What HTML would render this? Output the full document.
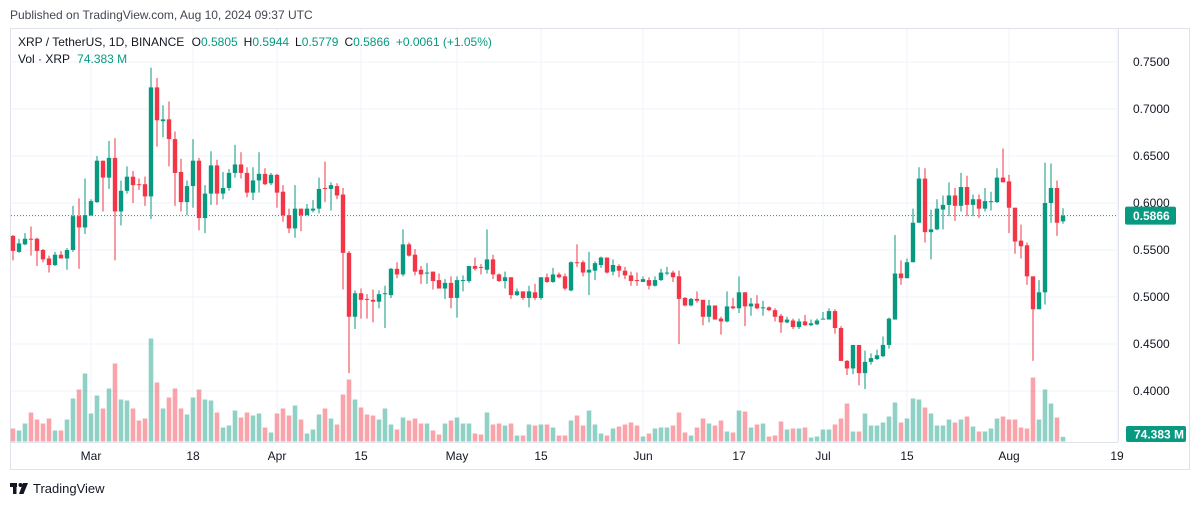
<!DOCTYPE html>
<html><head><meta charset="utf-8"><style>
html,body{margin:0;padding:0;background:#fff;}
svg{display:block;font-family:"Liberation Sans",sans-serif;}
</style></head><body>
<svg id="chart" width="1200" height="505" viewBox="0 0 1200 505" xmlns="http://www.w3.org/2000/svg">
<text x="10" y="19" font-size="12" fill="#434651">Published on TradingView.com, Aug 10, 2024 09:37 UTC</text>
<rect x="10.5" y="28.5" width="1179" height="441" fill="none" stroke="#e0e3eb"/>
<g id="grid"></g>
<g id="vol"></g>
<g id="candles"></g>
<g id="axes"></g>
<g font-size="12">
<text x="18" y="46" fill="#131722">XRP / TetherUS, 1D, BINANCE <tspan dx="4">O</tspan><tspan fill="#089981">0.5805</tspan><tspan dx="6">H</tspan><tspan fill="#089981">0.5944</tspan><tspan dx="6">L</tspan><tspan fill="#089981">0.5779</tspan><tspan dx="6">C</tspan><tspan fill="#089981">0.5866</tspan><tspan dx="6" fill="#089981">+0.0061 (+1.05%)</tspan></text>
<text x="18" y="63" fill="#131722">Vol · XRP <tspan dx="4" fill="#089981">74.383 M</tspan></text>
</g>
<g>
<rect x="10" y="483" width="7" height="4" fill="#131722"/><rect x="13" y="483" width="3.5" height="11" fill="#131722"/>
<circle cx="20.5" cy="485" r="2" fill="#131722"/><path d="M23 483 L28 483 L23.5 494 L19 494 Z" fill="#131722"/>
<text x="33" y="493" font-size="13" fill="#131722">TradingView</text>
</g>
</svg>
<script>
const opens=[.565,.548,.556,.562,.562,.55,.541,.534,.545,.541,.55,.586,.574,.587,.601,.645,.627,.648,.591,.613,.628,.620,.620,.607,.723,.687,.689,.668,.633,.601,.618,.645,.584,.610,.640,.610,.616,.632,.641,.632,.611,.624,.631,.621,.630,.612,.587,.573,.594,.587,.592,.594,.616,.615,.618,.609,.547,.479,.504,.498,.497,.495,.503,.502,.530,.524,.556,.545,.529,.525,.527,.518,.509,.515,.499,.517,.517,.533,.532,.529,.540,.524,.517,.521,.502,.506,.499,.505,.499,.521,.516,.524,.522,.507,.537,.537,.526,.528,.534,.542,.527,.533,.528,.523,.518,.516,.518,.512,.518,.525,.526,.522,.499,.491,.498,.497,.479,.491,.477,.474,.490,.488,.505,.490,.493,.488,.489,.486,.480,.473,.475,.468,.474,.470,.471,.476,.476,.485,.467,.432,.424,.449,.419,.431,.434,.437,.449,.476,.525,.520,.537,.579,.626,.569,.572,.593,.598,.608,.597,.617,.598,.604,.594,.601,.601,.627,.623,.595,.560,.555,.522,.487,.505,.600,.616,.5805];
const highs=[.566,.562,.568,.575,.563,.551,.544,.548,.549,.552,.597,.605,.626,.604,.650,.645,.666,.669,.624,.639,.634,.626,.628,.744,.733,.704,.708,.676,.647,.624,.668,.648,.619,.655,.646,.633,.636,.662,.654,.638,.638,.654,.637,.632,.631,.619,.594,.619,.594,.599,.603,.627,.644,.622,.621,.616,.549,.507,.509,.503,.508,.507,.512,.531,.537,.572,.558,.551,.533,.536,.527,.525,.519,.522,.522,.523,.533,.542,.535,.572,.545,.525,.527,.521,.509,.506,.512,.514,.521,.525,.531,.526,.525,.538,.556,.539,.548,.538,.543,.542,.540,.535,.532,.527,.526,.522,.521,.522,.530,.532,.528,.528,.500,.499,.506,.497,.497,.491,.479,.506,.499,.522,.505,.499,.502,.496,.490,.488,.482,.479,.477,.477,.481,.476,.477,.484,.488,.487,.469,.433,.449,.449,.443,.440,.444,.458,.478,.566,.539,.541,.594,.638,.637,.593,.604,.608,.622,.616,.632,.629,.609,.609,.616,.612,.637,.658,.630,.595,.577,.558,.522,.518,.643,.642,.624,.5944];
const lows=[.539,.547,.555,.544,.533,.537,.526,.533,.541,.529,.548,.530,.567,.586,.600,.591,.615,.539,.576,.610,.600,.614,.597,.583,.660,.670,.639,.597,.591,.587,.595,.571,.568,.598,.598,.604,.613,.627,.626,.606,.603,.611,.619,.619,.595,.580,.568,.563,.570,.587,.590,.589,.601,.592,.604,.508,.419,.466,.477,.477,.473,.488,.467,.499,.520,.522,.543,.523,.514,.514,.508,.509,.498,.488,.478,.506,.515,.528,.524,.525,.519,.516,.509,.498,.501,.497,.489,.497,.497,.515,.515,.520,.507,.506,.532,.522,.502,.518,.531,.525,.523,.521,.519,.512,.512,.516,.508,.511,.517,.523,.516,.450,.490,.490,.494,.470,.473,.476,.460,.473,.487,.483,.469,.480,.487,.480,.485,.474,.462,.472,.466,.466,.469,.469,.470,.476,.476,.461,.432,.417,.418,.406,.402,.428,.433,.436,.445,.476,.513,.520,.537,.579,.558,.540,.571,.572,.586,.581,.591,.586,.586,.584,.591,.592,.600,.622,.568,.546,.541,.513,.432,.487,.492,.579,.565,.5779];
const closes=[.549,.557,.562,.561,.549,.540,.534,.545,.541,.550,.586,.574,.587,.602,.645,.627,.648,.591,.613,.628,.619,.619,.607,.723,.688,.689,.668,.632,.601,.618,.645,.584,.610,.640,.610,.616,.632,.641,.632,.611,.624,.631,.620,.630,.611,.587,.573,.594,.587,.594,.594,.615,.615,.619,.608,.547,.479,.504,.497,.497,.495,.503,.504,.530,.524,.556,.544,.527,.524,.526,.517,.509,.515,.499,.518,.518,.533,.530,.531,.540,.524,.517,.521,.502,.506,.499,.506,.499,.521,.516,.524,.521,.509,.537,.536,.526,.529,.536,.542,.526,.534,.528,.523,.517,.517,.519,.512,.518,.526,.526,.521,.498,.491,.498,.496,.479,.491,.476,.474,.490,.488,.505,.490,.493,.488,.489,.486,.479,.473,.476,.468,.474,.470,.472,.475,.477,.485,.467,.432,.424,.449,.419,.431,.435,.438,.449,.477,.525,.520,.537,.579,.626,.569,.572,.594,.598,.608,.597,.617,.598,.604,.594,.602,.602,.627,.622,.595,.559,.554,.522,.487,.505,.600,.616,.579,.5866];
const volumes=[208,176,288,464,352,288,368,176,176,352,688,832,1088,448,736,528,848,1248,672,656,528,336,368,1648,944,528,704,848,528,432,704,832,672,656,464,224,256,496,384,464,416,448,224,144,448,528,416,576,352,128,192,432,528,368,272,752,992,672,544,432,416,352,528,272,192,384,336,368,288,288,176,112,288,336,384,288,288,128,112,464,272,288,256,288,96,96,272,256,272,272,224,96,
96,336,416,256,496,272,128,96,208,240,272,304,256,80,128,208,224,224,256,464,144,96,224,368,288,256,336,160,144,496,480,224,272,288,80,96,320,192,208,208,224,64,80,192,192,272,368,608,160,160,448,256,256,304,400,624,304,368,688,672,544,448,256,256,352,304,352,400,240,160,160,208,368,400,352,352,224,208,1024,352,832,608,384,74.383];
const priceTicks=[0.40,0.45,0.50,0.55,0.60,0.65,0.70,0.75];
const dateLabels=["Mar","18","Apr","15","May","15","Jun","17","Jul","15","Aug","19"];
const dateIndex=[13,30,44,58,74,88,105,121,135,149,166,184];
const lastClose=0.5866;
const lastVolumeLabel="74.383 M";

const NS="http://www.w3.org/2000/svg";
const PL=11,PR=1118,VOLBASE=441.5;
function xOf(i){return 13+6*i;}
function yOf(p){return 391-(p-0.40)*940;}
function vH(v){return v/16;}
function mk(tag,attrs,parent){const e=document.createElementNS(NS,tag);for(const k in attrs)e.setAttribute(k,attrs[k]);parent.appendChild(e);return e;}
const grid=document.getElementById('grid'),vol=document.getElementById('vol'),cg=document.getElementById('candles'),axes=document.getElementById('axes');
priceTicks.forEach(p=>{
  const l=mk('line',{x1:PL,x2:PR,y1:yOf(p),y2:yOf(p),stroke:'#f0f3fa'},grid);
  
  
  const t=mk('text',{x:1133,y:yOf(p)+4,'font-size':12,fill:'#131722'},axes);
  t.textContent=p.toFixed(4);
  
  
});
dateLabels.forEach((d,k)=>{
  const x=xOf(dateIndex[k]);
  const l=mk('line',{x1:x,x2:x,y1:29,y2:442,stroke:'#f0f3fa'},grid);
  
  
  const t=mk('text',{x:x,y:460,'font-size':12,fill:'#131722','text-anchor':'middle'},axes);
  t.textContent=d;
  
  
});
const sep=mk('line',{x1:1118.5,x2:1118.5,y1:29,y2:442,stroke:'#e0e3eb'},axes);


const xl=mk('line',{x1:11,x2:1118,y1:442.5,y2:442.5,stroke:'#e0e3eb'},axes);


for(let i=0;i<closes.length;i++){
  const up=closes[i]>=opens[i];
  const x=xOf(i);
  const h=vH(volumes[i]);
  const vb=mk('rect',{x:x-2.3,y:VOLBASE-h,width:4.6,height:h,fill:up?'rgba(8,153,129,0.45)':'rgba(242,54,69,0.45)'},vol);
  
  
}
for(let i=0;i<closes.length;i++){
  const up=closes[i]>=opens[i];
  const col=up?'#089981':'#f23645';
  const x=xOf(i);
  const g=mk('g',{},cg);
  
  
  mk('line',{x1:x,x2:x,y1:yOf(highs[i]),y2:yOf(lows[i]),stroke:col,'stroke-width':1},g);
  const top=yOf(Math.max(opens[i],closes[i])),bot=yOf(Math.min(opens[i],closes[i]));
  mk('rect',{x:x-2.2,y:top,width:4.4,height:Math.max(1,bot-top),fill:col},g);
}
const cy=yOf(lastClose);
const dl=mk('line',{x1:PL,x2:PR,y1:cy,y2:cy,stroke:'#089981','stroke-dasharray':'1 2'},axes);


const pb=mk('rect',{x:1125,y:cy-9,width:51,height:18,rx:2,fill:'#089981'},axes);


const pt=mk('text',{x:1133,y:cy+4.5,'font-size':12,fill:'#fff','font-weight':'bold'},axes);
pt.textContent=lastClose.toFixed(4);


const vbx=mk('rect',{x:1126,y:426,width:60,height:16,rx:2,fill:'#089981'},axes);


const vt=mk('text',{x:1134,y:438.5,'font-size':12,fill:'#fff','font-weight':'bold'},axes);
vt.textContent=lastVolumeLabel;


</script>
</body></html>
